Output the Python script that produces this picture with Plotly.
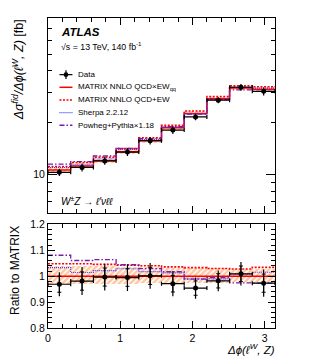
import math
import plotly.graph_objects as go

# ---------------- data ----------------
n_bins = 10
bin_edges = [i * math.pi / n_bins for i in range(n_bins + 1)]

matrix_qcdxew = [10.63, 11.21, 12.04, 13.57, 15.70, 18.66, 22.64, 27.49, 31.81, 31.24]
matrix_qcdpew = [11.14, 11.75, 12.59, 14.14, 16.33, 19.33, 23.39, 28.31, 32.70, 32.30]
sherpa = [10.98, 11.37, 12.30, 13.96, 15.98, 18.90, 22.41, 27.21, 32.06, 31.71]
powheg = [11.49, 11.89, 12.81, 14.17, 16.16, 18.98, 22.39, 27.35, 30.98, 30.40]
data = [10.30, 11.00, 12.00, 13.50, 15.72, 18.12, 21.60, 27.00, 32.10, 30.40]
data_tot_rel = [0.048, 0.055, 0.052, 0.052, 0.050, 0.050, 0.043, 0.041, 0.045, 0.054]
data_stat_rel = [0.032, 0.036, 0.035, 0.034, 0.033, 0.033, 0.029, 0.028, 0.030, 0.036]
matrix_unc_up = [0.038, 0.037, 0.036, 0.034, 0.033, 0.031, 0.030, 0.029, 0.028, 0.028]
matrix_unc_dn = [0.033, 0.032, 0.031, 0.030, 0.029, 0.028, 0.027, 0.026, 0.025, 0.025]

main_minor_ticks = [6, 7, 8, 9, 20, 30, 40, 50, 60, 70, 80]
ratio_ticks = [0.8, 0.9, 1.0, 1.1, 1.2]
ratio_ticktext = ["0.8", "0.9", "1", "1.1", "1.2"]
x_ticks = [0, 1, 2, 3]

# ---------------- derived ----------------
centers = [(bin_edges[i] + bin_edges[i + 1]) / 2 for i in range(n_bins)]
half_w = [(bin_edges[i + 1] - bin_edges[i]) / 2 for i in range(n_bins)]
widths = [bin_edges[i + 1] - bin_edges[i] for i in range(n_bins)]


def ratio(a):
    return [a[i] / matrix_qcdxew[i] for i in range(n_bins)]


def step(vals):
    return list(vals) + [vals[-1]]


W, H = 317, 359
L, R, T, B = 47.5, 42, 14.7, 30.7
PW, PH = W - L - R, H - T - B


def px(x):
    return (x - L) / PW


def py(y):
    return (H - B - y) / PH


main_dom = [py(211.7), 1.0]
ratio_dom = [0.0, py(223.5)]

FONT = "Liberation Sans, Arial, Helvetica, sans-serif"
RED = "#ff0000"
BLUE = "#3c3cff"
PURPLE = "#7a1ca8"
ORANGE = "#ff8a3d"

DOT_RED = "2px,1.5px"
DOT_BLUE = "1px,1px"
DASHDOT = "5px,2px,1.5px,2px"

fig = go.Figure()

hatch = dict(shape="/", fgcolor=ORANGE, fillmode="overlay", size=4, solidity=0.6)

# uncertainty band - main
fig.add_trace(go.Bar(
    x=centers, width=widths,
    base=[matrix_qcdxew[i] * (1 - matrix_unc_dn[i]) for i in range(n_bins)],
    y=[matrix_qcdxew[i] * (matrix_unc_up[i] + matrix_unc_dn[i]) for i in range(n_bins)],
    marker=dict(color="rgba(255,255,255,0)", line=dict(width=0), pattern=hatch),
    xaxis="x", yaxis="y", showlegend=False, hoverinfo="skip"))
# uncertainty band - ratio
fig.add_trace(go.Bar(
    x=centers, width=widths,
    base=[1 - d for d in matrix_unc_dn],
    y=[matrix_unc_up[i] + matrix_unc_dn[i] for i in range(n_bins)],
    marker=dict(color="rgba(255,255,255,0)", line=dict(width=0), pattern=hatch),
    xaxis="x2", yaxis="y2", showlegend=False, hoverinfo="skip"))

preds = [
    (matrix_qcdxew, RED, "solid", 1.5),
    (matrix_qcdpew, RED, DOT_RED, 1.6),
    (sherpa, BLUE, DOT_BLUE, 1.1),
    (powheg, PURPLE, DASHDOT, 1.3),
]
for vals, col, dash, lw in preds:
    fig.add_trace(go.Scatter(x=bin_edges, y=step(vals), mode="lines",
                             line=dict(color=col, dash=dash, width=lw, shape="hv"),
                             xaxis="x", yaxis="y", showlegend=False, hoverinfo="skip"))
    fig.add_trace(go.Scatter(x=bin_edges, y=step(ratio(vals)), mode="lines",
                             line=dict(color=col, dash=dash, width=lw, shape="hv"),
                             xaxis="x2", yaxis="y2", showlegend=False, hoverinfo="skip"))

# data - main
fig.add_trace(go.Scatter(
    x=centers, y=data, mode="markers",
    marker=dict(color="black", size=5, symbol="circle"),
    error_x=dict(type="data", array=half_w, color="black", thickness=1.2, width=2),
    error_y=dict(type="data", array=[data[i] * data_tot_rel[i] for i in range(n_bins)],
                 color="black", thickness=1.2, width=0),
    xaxis="x", yaxis="y", showlegend=False))

# data - ratio
rd = ratio(data)
fig.add_trace(go.Scatter(
    x=centers, y=rd, mode="markers",
    marker=dict(color="black", size=1),
    error_y=dict(type="data", array=[rd[i] * data_stat_rel[i] for i in range(n_bins)],
                 color="black", thickness=1, width=2),
    xaxis="x2", yaxis="y2", showlegend=False, hoverinfo="skip"))
fig.add_trace(go.Scatter(
    x=centers, y=rd, mode="markers",
    marker=dict(color="black", size=5, symbol="circle"),
    error_x=dict(type="data", array=half_w, color="black", thickness=1.2, width=2),
    error_y=dict(type="data", array=[rd[i] * data_tot_rel[i] for i in range(n_bins)],
                 color="black", thickness=1.2, width=0),
    xaxis="x2", yaxis="y2", showlegend=False))

axis_common = dict(showline=True, linecolor="black", linewidth=1, mirror="allticks",
                   ticks="inside", tickcolor="black", showgrid=False, zeroline=False,
                   tickfont=dict(family=FONT, size=10.5, color="black"))

fig.update_layout(
    width=W, height=H,
    margin=dict(l=L, r=R, t=T, b=B),
    paper_bgcolor="white", plot_bgcolor="white",
    barmode="overlay", bargap=0,
    showlegend=False,
    font=dict(family=FONT, color="black"),
    xaxis=dict(domain=[0, 1], range=[0, math.pi], anchor="y", tickvals=x_ticks,
               showticklabels=False, ticklen=7,
               minor=dict(dtick=0.2, tick0=0, ticklen=4, ticks="inside", tickcolor="black"),
               **axis_common),
    yaxis=dict(domain=main_dom, type="log", range=[math.log10(6.0), math.log10(81)],
               anchor="x", tickvals=[10], ticktext=["10"], ticklen=9,
               minor=dict(tickmode="array", tickvals=main_minor_ticks, ticklen=4,
                          ticks="inside", tickcolor="black"),
               **axis_common),
    xaxis2=dict(domain=[0, 1], range=[0, math.pi], anchor="y2", tickvals=x_ticks,
                ticklen=7,
                minor=dict(dtick=0.2, tick0=0, ticklen=4, ticks="inside", tickcolor="black"),
                **axis_common),
    yaxis2=dict(domain=ratio_dom, range=[0.8, 1.2], anchor="x2", tickvals=ratio_ticks,
                ticktext=ratio_ticktext, ticklen=7,
                minor=dict(dtick=0.02, tick0=0.8, ticklen=4, ticks="inside", tickcolor="black"),
                **axis_common),
)

ann = []


def text(x, y, s, size, xanchor="left", yanchor="middle", angle=0):
    ann.append(dict(x=px(x), y=py(y), xref="paper", yref="paper", text=s, showarrow=False,
                    xanchor=xanchor, yanchor=yanchor, textangle=angle, borderpad=0,
                    font=dict(family=FONT, size=size, color="black")))


text(60, 29, "<b><i>ATLAS</i></b>", 11.5)
text(60, 43, "√s = 13 TeV, 140 fb<sup>-1</sup>", 8.8)
text(60, 200, "<i>W<sup>±</sup>Z → ℓ′νℓℓ</i>", 10)
text(276, 350, "<i>Δϕ(ℓ<sup>W</sup>, Z)</i>", 11.5, xanchor="right", yanchor="middle")
text(17, 15, "<i>Δσ<sup>fid</sup>/Δϕ(ℓ<sup>W</sup>, Z)</i> [fb]", 12.5, xanchor="center",
     yanchor="top", angle=-90)
text(15, 224, "Ratio to MATRIX", 12, xanchor="center", yanchor="top", angle=-90)

# legend (manual)
leg_y = [72, 84.8, 97.6, 110.4, 123.2]
leg_txt = ["Data", "MATRIX NNLO QCD×EW<sub>qq</sub>", "MATRIX NNLO QCD+EW",
           "Sherpa 2.2.12", "Powheg+Pythia×1.18"]
for yy, s in zip(leg_y, leg_txt):
    text(77, yy, s, 8)

shapes = []


def seg(x0, y0, x1, y1, col, dash="solid", w=1.5):
    shapes.append(dict(type="line", xref="paper", yref="paper", x0=px(x0), y0=py(y0),
                       x1=px(x1), y1=py(y1), line=dict(color=col, dash=dash, width=w)))


seg(59, leg_y[0], 72, leg_y[0], "black", w=1.2)
seg(65.5, leg_y[0] - 4.5, 65.5, leg_y[0] + 4.5, "black", w=1.2)
shapes.append(dict(type="circle", xref="paper", yref="paper", x0=px(63.2), x1=px(67.8),
                   y0=py(leg_y[0] + 2.3), y1=py(leg_y[0] - 2.3), fillcolor="black",
                   line=dict(color="black", width=0)))
seg(59, leg_y[1], 72, leg_y[1], RED, w=1.5)
seg(59, leg_y[2], 72, leg_y[2], RED, dash=DOT_RED, w=1.6)
seg(59, leg_y[3], 72, leg_y[3], BLUE, dash=DOT_BLUE, w=1.1)
seg(59, leg_y[4], 72, leg_y[4], PURPLE, dash=DASHDOT, w=1.3)

fig.update_layout(annotations=ann, shapes=shapes)

fig.write_html("out.html", config={"displayModeBar": False},
               post_script="document.body.style.margin='0';")
